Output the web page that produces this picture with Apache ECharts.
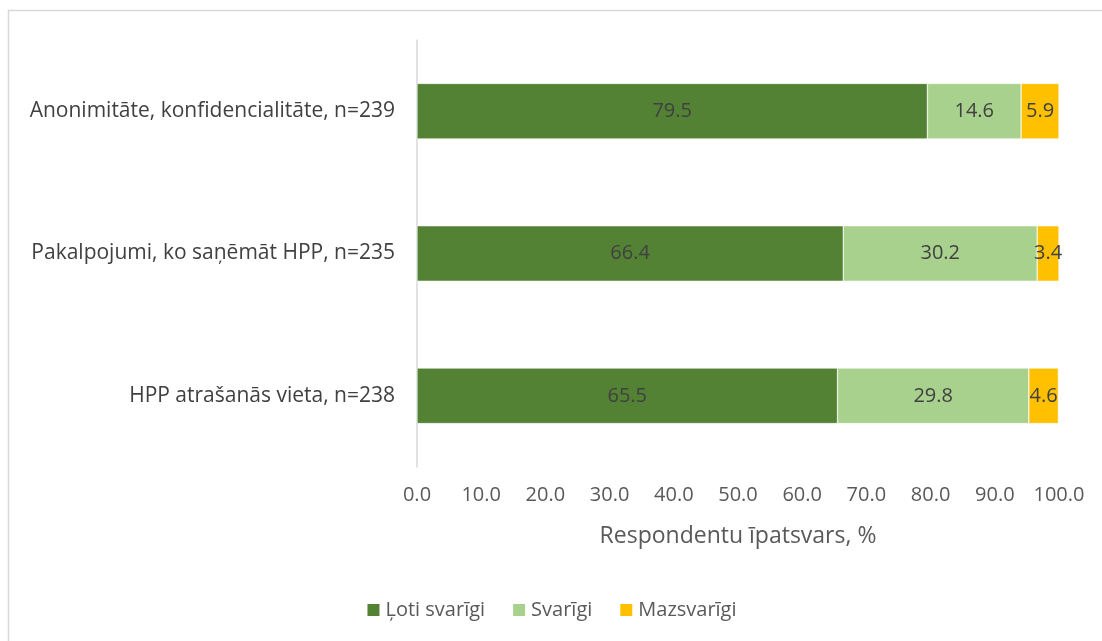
<!DOCTYPE html>
<html><head><meta charset="utf-8">
<script src="https://cdn.jsdelivr.net/npm/echarts@6/dist/echarts.min.js"></script>
<style>html,body{margin:0;padding:0;background:#fff}#c{width:1102px;height:641px}</style>
</head><body><div id="c"></div>
<script>
const categories = ['HPP atrašanās vieta, n=238', 'Pakalpojumi, ko saņēmāt HPP, n=235', 'Anonimitāte, konfidencialitāte, n=239'];
const seriesNames = ['Ļoti svarīgi', 'Svarīgi', 'Mazsvarīgi'];
const lotiSvarigi = [65.5, 66.4, 79.5];
const svarigi = [29.8, 30.2, 14.6];
const mazsvarigi = [4.6, 3.4, 5.9];
const colors = ['#548235', '#A9D18E', '#FFC000'];
const font = 'Open Sans';
const chart = echarts.init(document.getElementById('c'));
const mk = (name, data, color) => ({
  name, type: 'bar', stack: 'a', data, barWidth: '39%',
  itemStyle: {color, borderColor: '#fff', borderWidth: 0.5},
  label: {show: true, position: 'inside', color: '#404040', fontSize: 20, fontFamily: font,
          formatter: p => p.value.toFixed(1)}
});
chart.setOption({
  animation: false,
  graphic: [{type: 'rect', shape: {x: 8.5, y: 10.5, width: 1200, height: 700},
             style: {fill: 'none', stroke: '#d9d9d9', lineWidth: 1.5}, silent: true}],
  grid: {left: 417, right: 43, top: 40, bottom: 174},
  legend: {bottom: 16, left: 'center', itemWidth: 14, itemHeight: 14, itemGap: 26,
           icon: 'rect', textStyle: {fontSize: 20, color: '#595959', fontFamily: font},
           data: seriesNames},
  xAxis: {type: 'value', min: 0, max: 100, interval: 10,
          axisLabel: {formatter: v => v.toFixed(1), fontSize: 20, color: '#595959', fontFamily: font, margin: 18},
          splitLine: {show: false}, axisLine: {show: false}, axisTick: {show: false},
          name: 'Respondentu īpatsvars, %', nameLocation: 'middle', nameGap: 58,
          nameTextStyle: {fontSize: 23, color: '#595959', fontFamily: font}},
  yAxis: {type: 'category', data: categories,
          axisLine: {show: true, lineStyle: {color: '#d9d9d9', width: 1.5}}, axisTick: {show: false},
          axisLabel: {fontSize: 21, color: '#404040', fontFamily: font, margin: 22}},
  series: [mk(seriesNames[0], lotiSvarigi, colors[0]), mk(seriesNames[1], svarigi, colors[1]), mk(seriesNames[2], mazsvarigi, colors[2])]
});
</script></body></html>
